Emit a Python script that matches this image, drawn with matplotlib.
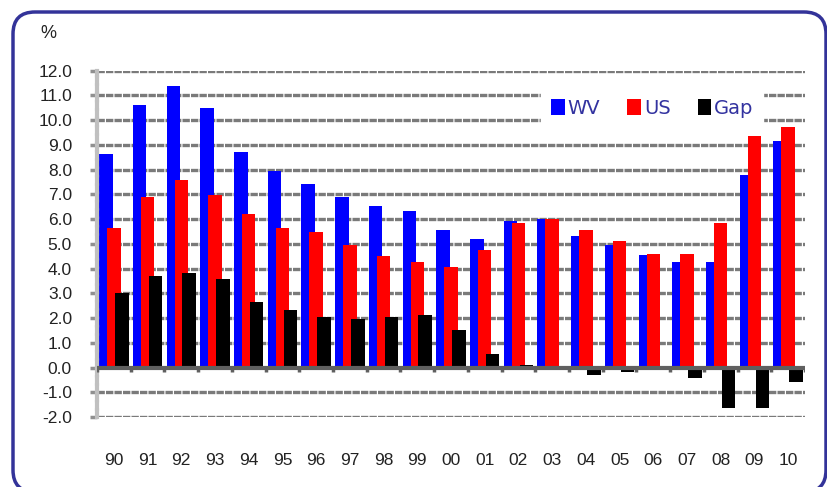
import numpy as np
import matplotlib
matplotlib.use('Agg')
import matplotlib.pyplot as plt
from matplotlib.patches import FancyBboxPatch

years = ['90', '91', '92', '93', '94', '95', '96', '97', '98', '99', '00',
         '01', '02', '03', '04', '05', '06', '07', '08', '09', '10']
wv = [8.65, 10.6, 11.38, 10.49, 8.73, 7.95, 7.42, 6.9, 6.52, 6.34, 5.58,
      5.21, 5.93, 6.02, 5.32, 4.96, 4.53, 4.26, 4.26, 7.79, 9.17]
us = [5.64, 6.9, 7.58, 6.97, 6.2, 5.64, 5.47, 4.96, 4.51, 4.26, 4.07,
      4.77, 5.85, 6.02, 5.58, 5.12, 4.58, 4.58, 5.85, 9.35, 9.71]
gap = [3.02, 3.72, 3.81, 3.56, 2.64, 2.32, 2.06, 1.96, 2.06, 2.13, 1.51,
       0.55, 0.11, -0.05, -0.3, -0.2, -0.1, -0.42, -1.62, -1.62, -0.58]

plt.rcParams['font.family'] = ['Liberation Sans', 'DejaVu Sans']

fig = plt.figure(figsize=(8.27, 4.87), dpi=100)
ax = fig.add_axes([97/827, 1-417/487, 708/827, 346.3/487])

x = np.arange(len(years))
w = 0.4
ax.bar(x - 0.235, wv, w, color='#0000ff', label='WV', zorder=2)
ax.bar(x, us, w, color='#ff0000', label='US', zorder=3)
ax.bar(x + 0.235, gap, w, color='#000000', label='Gap', zorder=4)

ax.set_xlim(-0.5, len(years) - 0.5)
ax.set_ylim(-2, 12)
ax.set_yticks(np.arange(-2, 13, 1))
ax.set_yticklabels(['%.1f' % v for v in np.arange(-2, 13, 1)], fontsize=12.5, color='#222222')

# grid
for v in np.arange(-2, 13, 1):
    if v == 0:
        continue
    ax.axhline(v, color='#7a7a7a', lw=2.4, ls=(0, (2.2, 0.35)), zorder=1)
ax.axhline(0, color='#606060', lw=3, zorder=5)
ax.vlines(np.arange(len(years) + 1) - 0.5, -0.18, 0, color='#606060', lw=2.5, zorder=5)

for s in ['top', 'right', 'bottom']:
    ax.spines[s].set_visible(False)
ax.spines['left'].set_color('#c0c0c0')
ax.spines['left'].set_linewidth(3)
ax.spines['left'].set_linestyle((0, (1.6, 0.4)))

ax.set_xticks(x)
ax.set_xticklabels(years, fontsize=12.5, color='#222222')
ax.tick_params(axis='x', length=0, pad=26)
ax.tick_params(axis='y', length=5, width=2.5, color='#909090', pad=13)

leg = ax.legend(ncol=3, loc='upper right', bbox_to_anchor=(0.955, 0.975),
                prop={'family': 'DejaVu Sans', 'size': 14}, frameon=True,
                fancybox=False, framealpha=1,
                edgecolor='white', handlelength=0.7, handleheight=0.9,
                handletextpad=0.15, columnspacing=1.4, borderpad=0.5)
leg.set_zorder(10)
for t in leg.get_texts():
    t.set_color('#3333a0')

fig.text(40/827, 1-33/487, '%', fontsize=13, color='#222222', va='center', ha='left')

frame = FancyBboxPatch((0.13, -0.05), 8.13, 4.8,
                       boxstyle='round,pad=0,rounding_size=0.22',
                       transform=fig.dpi_scale_trans, fill=False,
                       edgecolor='#333399', lw=2.5, zorder=20)
fig.patches.append(frame)

plt.savefig('out.png', dpi=100)
